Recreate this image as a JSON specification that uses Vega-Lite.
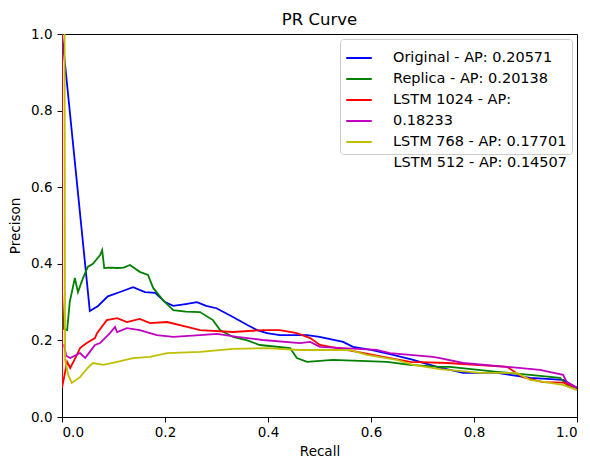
{
  "$schema": "https://vega.github.io/schema/vega-lite/v6.json",
  "width": 515,
  "height": 383,
  "autosize": {"type": "none"},
  "padding": {"left": 62, "top": 34, "right": 13, "bottom": 44},
  "background": "white",
  "title": {"text": "PR Curve", "fontSize": 16.5, "fontWeight": "normal", "font": "DejaVu Sans", "color": "black", "offset": -1},
  "config": {
    "font": "DejaVu Sans",
    "view": {"stroke": "black", "strokeWidth": 1},
    "axis": {"grid": false, "domainColor": "black", "tickColor": "black", "tickSize": 5, "labelColor": "black", "labelFontSize": 13.5, "titleColor": "black", "titleFontSize": 13.5, "titleFontWeight": "normal", "labelFont": "DejaVu Sans", "titleFont": "DejaVu Sans"},
    "legend": {"labelFont": "DejaVu Sans"}
  },
  "resolve": {"scale": {"color": "independent"}, "legend": {"color": "independent"}},
  "layer": [
    {
      "data": {"values": [
        {"s":"Original - AP: 0.20571","i":0,"r":0,"p":1.0},
        {"s":"Original - AP: 0.20571","i":1,"r":0.054,"p":0.277},
        {"s":"Original - AP: 0.20571","i":2,"r":0.07,"p":0.29},
        {"s":"Original - AP: 0.20571","i":3,"r":0.089,"p":0.315},
        {"s":"Original - AP: 0.20571","i":4,"r":0.11,"p":0.325},
        {"s":"Original - AP: 0.20571","i":5,"r":0.138,"p":0.339},
        {"s":"Original - AP: 0.20571","i":6,"r":0.161,"p":0.326},
        {"s":"Original - AP: 0.20571","i":7,"r":0.181,"p":0.324},
        {"s":"Original - AP: 0.20571","i":8,"r":0.2,"p":0.3},
        {"s":"Original - AP: 0.20571","i":9,"r":0.216,"p":0.29},
        {"s":"Original - AP: 0.20571","i":10,"r":0.24,"p":0.295},
        {"s":"Original - AP: 0.20571","i":11,"r":0.262,"p":0.3},
        {"s":"Original - AP: 0.20571","i":12,"r":0.28,"p":0.29},
        {"s":"Original - AP: 0.20571","i":13,"r":0.3,"p":0.284},
        {"s":"Original - AP: 0.20571","i":14,"r":0.332,"p":0.261},
        {"s":"Original - AP: 0.20571","i":15,"r":0.36,"p":0.24},
        {"s":"Original - AP: 0.20571","i":16,"r":0.379,"p":0.227},
        {"s":"Original - AP: 0.20571","i":17,"r":0.398,"p":0.219},
        {"s":"Original - AP: 0.20571","i":18,"r":0.423,"p":0.214},
        {"s":"Original - AP: 0.20571","i":19,"r":0.476,"p":0.214},
        {"s":"Original - AP: 0.20571","i":20,"r":0.5,"p":0.209},
        {"s":"Original - AP: 0.20571","i":21,"r":0.546,"p":0.196},
        {"s":"Original - AP: 0.20571","i":22,"r":0.565,"p":0.183},
        {"s":"Original - AP: 0.20571","i":23,"r":0.6,"p":0.175},
        {"s":"Original - AP: 0.20571","i":24,"r":0.643,"p":0.162},
        {"s":"Original - AP: 0.20571","i":25,"r":0.682,"p":0.149},
        {"s":"Original - AP: 0.20571","i":26,"r":0.728,"p":0.131},
        {"s":"Original - AP: 0.20571","i":27,"r":0.779,"p":0.115},
        {"s":"Original - AP: 0.20571","i":28,"r":0.845,"p":0.115},
        {"s":"Original - AP: 0.20571","i":29,"r":0.909,"p":0.102},
        {"s":"Original - AP: 0.20571","i":30,"r":0.973,"p":0.097},
        {"s":"Original - AP: 0.20571","i":31,"r":1.0,"p":0.076},

        {"s":"Replica - AP: 0.20138","i":0,"r":0,"p":0.33},
        {"s":"Replica - AP: 0.20138","i":1,"r":0.003,"p":0.23},
        {"s":"Replica - AP: 0.20138","i":2,"r":0.01,"p":0.227},
        {"s":"Replica - AP: 0.20138","i":3,"r":0.015,"p":0.3},
        {"s":"Replica - AP: 0.20138","i":4,"r":0.025,"p":0.363},
        {"s":"Replica - AP: 0.20138","i":5,"r":0.031,"p":0.326},
        {"s":"Replica - AP: 0.20138","i":6,"r":0.04,"p":0.36},
        {"s":"Replica - AP: 0.20138","i":7,"r":0.05,"p":0.392},
        {"s":"Replica - AP: 0.20138","i":8,"r":0.06,"p":0.4},
        {"s":"Replica - AP: 0.20138","i":9,"r":0.074,"p":0.423},
        {"s":"Replica - AP: 0.20138","i":10,"r":0.078,"p":0.436},
        {"s":"Replica - AP: 0.20138","i":11,"r":0.082,"p":0.389},
        {"s":"Replica - AP: 0.20138","i":12,"r":0.095,"p":0.39},
        {"s":"Replica - AP: 0.20138","i":13,"r":0.107,"p":0.389},
        {"s":"Replica - AP: 0.20138","i":14,"r":0.12,"p":0.39},
        {"s":"Replica - AP: 0.20138","i":15,"r":0.132,"p":0.397},
        {"s":"Replica - AP: 0.20138","i":16,"r":0.151,"p":0.379},
        {"s":"Replica - AP: 0.20138","i":17,"r":0.167,"p":0.371},
        {"s":"Replica - AP: 0.20138","i":18,"r":0.177,"p":0.337},
        {"s":"Replica - AP: 0.20138","i":19,"r":0.196,"p":0.305},
        {"s":"Replica - AP: 0.20138","i":20,"r":0.216,"p":0.279},
        {"s":"Replica - AP: 0.20138","i":21,"r":0.24,"p":0.275},
        {"s":"Replica - AP: 0.20138","i":22,"r":0.268,"p":0.274},
        {"s":"Replica - AP: 0.20138","i":23,"r":0.293,"p":0.253},
        {"s":"Replica - AP: 0.20138","i":24,"r":0.307,"p":0.227},
        {"s":"Replica - AP: 0.20138","i":25,"r":0.332,"p":0.209},
        {"s":"Replica - AP: 0.20138","i":26,"r":0.36,"p":0.2},
        {"s":"Replica - AP: 0.20138","i":27,"r":0.384,"p":0.188},
        {"s":"Replica - AP: 0.20138","i":28,"r":0.443,"p":0.18},
        {"s":"Replica - AP: 0.20138","i":29,"r":0.456,"p":0.154},
        {"s":"Replica - AP: 0.20138","i":30,"r":0.476,"p":0.144},
        {"s":"Replica - AP: 0.20138","i":31,"r":0.526,"p":0.149},
        {"s":"Replica - AP: 0.20138","i":32,"r":0.631,"p":0.144},
        {"s":"Replica - AP: 0.20138","i":33,"r":0.676,"p":0.136},
        {"s":"Replica - AP: 0.20138","i":34,"r":0.734,"p":0.131},
        {"s":"Replica - AP: 0.20138","i":35,"r":0.753,"p":0.131},
        {"s":"Replica - AP: 0.20138","i":36,"r":0.845,"p":0.118},
        {"s":"Replica - AP: 0.20138","i":37,"r":0.909,"p":0.11},
        {"s":"Replica - AP: 0.20138","i":38,"r":0.967,"p":0.102},
        {"s":"Replica - AP: 0.20138","i":39,"r":0.98,"p":0.084},
        {"s":"Replica - AP: 0.20138","i":40,"r":1.0,"p":0.076},

        {"s":"LSTM 1024 - AP:","i":0,"r":0,"p":1.0},
        {"s":"LSTM 1024 - AP:","i":1,"r":0,"p":0.076},
        {"s":"LSTM 1024 - AP:","i":2,"r":0.005,"p":0.11},
        {"s":"LSTM 1024 - AP:","i":3,"r":0.01,"p":0.144},
        {"s":"LSTM 1024 - AP:","i":4,"r":0.016,"p":0.128},
        {"s":"LSTM 1024 - AP:","i":5,"r":0.029,"p":0.162},
        {"s":"LSTM 1024 - AP:","i":6,"r":0.035,"p":0.18},
        {"s":"LSTM 1024 - AP:","i":7,"r":0.048,"p":0.193},
        {"s":"LSTM 1024 - AP:","i":8,"r":0.064,"p":0.206},
        {"s":"LSTM 1024 - AP:","i":9,"r":0.068,"p":0.219},
        {"s":"LSTM 1024 - AP:","i":10,"r":0.087,"p":0.253},
        {"s":"LSTM 1024 - AP:","i":11,"r":0.107,"p":0.258},
        {"s":"LSTM 1024 - AP:","i":12,"r":0.126,"p":0.248},
        {"s":"LSTM 1024 - AP:","i":13,"r":0.151,"p":0.256},
        {"s":"LSTM 1024 - AP:","i":14,"r":0.171,"p":0.245},
        {"s":"LSTM 1024 - AP:","i":15,"r":0.204,"p":0.248},
        {"s":"LSTM 1024 - AP:","i":16,"r":0.243,"p":0.235},
        {"s":"LSTM 1024 - AP:","i":17,"r":0.268,"p":0.227},
        {"s":"LSTM 1024 - AP:","i":18,"r":0.332,"p":0.222},
        {"s":"LSTM 1024 - AP:","i":19,"r":0.39,"p":0.227},
        {"s":"LSTM 1024 - AP:","i":20,"r":0.423,"p":0.227},
        {"s":"LSTM 1024 - AP:","i":21,"r":0.456,"p":0.219},
        {"s":"LSTM 1024 - AP:","i":22,"r":0.482,"p":0.206},
        {"s":"LSTM 1024 - AP:","i":23,"r":0.501,"p":0.188},
        {"s":"LSTM 1024 - AP:","i":24,"r":0.573,"p":0.17},
        {"s":"LSTM 1024 - AP:","i":25,"r":0.637,"p":0.154},
        {"s":"LSTM 1024 - AP:","i":26,"r":0.676,"p":0.144},
        {"s":"LSTM 1024 - AP:","i":27,"r":0.748,"p":0.141},
        {"s":"LSTM 1024 - AP:","i":28,"r":0.864,"p":0.131},
        {"s":"LSTM 1024 - AP:","i":29,"r":0.895,"p":0.104},
        {"s":"LSTM 1024 - AP:","i":30,"r":0.934,"p":0.091},
        {"s":"LSTM 1024 - AP:","i":31,"r":0.973,"p":0.09},
        {"s":"LSTM 1024 - AP:","i":32,"r":1.0,"p":0.076},

        {"s":"0.18233","i":0,"r":0.004,"p":0.19},
        {"s":"0.18233","i":1,"r":0.008,"p":0.16},
        {"s":"0.18233","i":2,"r":0.016,"p":0.154},
        {"s":"0.18233","i":3,"r":0.035,"p":0.167},
        {"s":"0.18233","i":4,"r":0.045,"p":0.154},
        {"s":"0.18233","i":5,"r":0.054,"p":0.17},
        {"s":"0.18233","i":6,"r":0.064,"p":0.188},
        {"s":"0.18233","i":7,"r":0.074,"p":0.193},
        {"s":"0.18233","i":8,"r":0.093,"p":0.219},
        {"s":"0.18233","i":9,"r":0.103,"p":0.235},
        {"s":"0.18233","i":10,"r":0.107,"p":0.222},
        {"s":"0.18233","i":11,"r":0.126,"p":0.232},
        {"s":"0.18233","i":12,"r":0.151,"p":0.227},
        {"s":"0.18233","i":13,"r":0.184,"p":0.214},
        {"s":"0.18233","i":14,"r":0.216,"p":0.209},
        {"s":"0.18233","i":15,"r":0.268,"p":0.214},
        {"s":"0.18233","i":16,"r":0.301,"p":0.217},
        {"s":"0.18233","i":17,"r":0.34,"p":0.209},
        {"s":"0.18233","i":18,"r":0.39,"p":0.201},
        {"s":"0.18233","i":19,"r":0.462,"p":0.193},
        {"s":"0.18233","i":20,"r":0.482,"p":0.196},
        {"s":"0.18233","i":21,"r":0.501,"p":0.183},
        {"s":"0.18233","i":22,"r":0.611,"p":0.175},
        {"s":"0.18233","i":23,"r":0.637,"p":0.167},
        {"s":"0.18233","i":24,"r":0.72,"p":0.157},
        {"s":"0.18233","i":25,"r":0.734,"p":0.154},
        {"s":"0.18233","i":26,"r":0.779,"p":0.141},
        {"s":"0.18233","i":27,"r":0.864,"p":0.131},
        {"s":"0.18233","i":28,"r":0.928,"p":0.123},
        {"s":"0.18233","i":29,"r":0.973,"p":0.11},
        {"s":"0.18233","i":30,"r":0.98,"p":0.091},
        {"s":"0.18233","i":31,"r":1.0,"p":0.076},

        {"s":"LSTM 768 - AP: 0.17701","i":0,"r":0.005,"p":1.0},
        {"s":"LSTM 768 - AP: 0.17701","i":1,"r":0.006,"p":0.15},
        {"s":"LSTM 768 - AP: 0.17701","i":2,"r":0.012,"p":0.11},
        {"s":"LSTM 768 - AP: 0.17701","i":3,"r":0.019,"p":0.089},
        {"s":"LSTM 768 - AP: 0.17701","i":4,"r":0.035,"p":0.104},
        {"s":"LSTM 768 - AP: 0.17701","i":5,"r":0.05,"p":0.128},
        {"s":"LSTM 768 - AP: 0.17701","i":6,"r":0.06,"p":0.141},
        {"s":"LSTM 768 - AP: 0.17701","i":7,"r":0.08,"p":0.136},
        {"s":"LSTM 768 - AP: 0.17701","i":8,"r":0.107,"p":0.144},
        {"s":"LSTM 768 - AP: 0.17701","i":9,"r":0.138,"p":0.154},
        {"s":"LSTM 768 - AP: 0.17701","i":10,"r":0.171,"p":0.157},
        {"s":"LSTM 768 - AP: 0.17701","i":11,"r":0.204,"p":0.167},
        {"s":"LSTM 768 - AP: 0.17701","i":12,"r":0.268,"p":0.17},
        {"s":"LSTM 768 - AP: 0.17701","i":13,"r":0.332,"p":0.178},
        {"s":"LSTM 768 - AP: 0.17701","i":14,"r":0.398,"p":0.18},
        {"s":"LSTM 768 - AP: 0.17701","i":15,"r":0.462,"p":0.175},
        {"s":"LSTM 768 - AP: 0.17701","i":16,"r":0.559,"p":0.175},
        {"s":"LSTM 768 - AP: 0.17701","i":17,"r":0.592,"p":0.162},
        {"s":"LSTM 768 - AP: 0.17701","i":18,"r":0.65,"p":0.149},
        {"s":"LSTM 768 - AP: 0.17701","i":19,"r":0.682,"p":0.136},
        {"s":"LSTM 768 - AP: 0.17701","i":20,"r":0.734,"p":0.125},
        {"s":"LSTM 768 - AP: 0.17701","i":21,"r":0.812,"p":0.115},
        {"s":"LSTM 768 - AP: 0.17701","i":22,"r":0.883,"p":0.115},
        {"s":"LSTM 768 - AP: 0.17701","i":23,"r":0.909,"p":0.097},
        {"s":"LSTM 768 - AP: 0.17701","i":24,"r":0.973,"p":0.084},
        {"s":"LSTM 768 - AP: 0.17701","i":25,"r":1.0,"p":0.07}
      ]},
      "mark": {"type": "line", "strokeWidth": 1.8, "clip": true},
      "encoding": {
        "x": {"field": "r", "type": "quantitative", "scale": {"domain": [0, 1], "nice": false}, "axis": {"title": "Recall", "values": [0, 0.2, 0.4, 0.6, 0.8, 1.0], "format": ".1f", "labelPadding": 3, "titlePadding": 6}},
        "y": {"field": "p", "type": "quantitative", "scale": {"domain": [0, 1], "nice": false}, "axis": {"title": "Precison", "values": [0, 0.2, 0.4, 0.6, 0.8, 1.0], "format": ".1f", "labelPadding": 5, "titlePadding": 8}},
        "color": {
          "field": "s", "type": "nominal",
          "scale": {
            "domain": ["Original - AP: 0.20571", "Replica - AP: 0.20138", "LSTM 1024 - AP:", "0.18233", "LSTM 768 - AP: 0.17701"],
            "range": ["#0000ff", "#008000", "#ff0000", "#bf00bf", "#bfbf00"]
          },
          "legend": {"title": null, "orient": "top-right", "offset": 5, "fillColor": "white", "strokeColor": "#cccccc", "cornerRadius": 3, "padding": 5, "symbolType": "stroke", "symbolSize": 650, "symbolStrokeWidth": 2, "symbolOffset": 0, "labelOffset": 20, "labelFontSize": 14.5, "labelColor": "black", "labelLimit": 300, "rowPadding": 0}
        },
        "order": {"field": "i", "type": "quantitative"}
      }
    },
    {
      "data": {"values": [
        {"s": "LSTM 512 - AP: 0.14507", "r": 1.0, "p": 0.076}
      ]},
      "mark": {"type": "line", "strokeWidth": 0, "opacity": 0},
      "encoding": {
        "x": {"field": "r", "type": "quantitative"},
        "y": {"field": "p", "type": "quantitative"},
        "color": {
          "field": "s", "type": "nominal",
          "scale": {"domain": ["LSTM 512 - AP: 0.14507"], "range": ["rgba(255,255,255,0)"]},
          "legend": {"title": null, "orient": "none", "legendX": 278.5, "legendY": 110, "padding": 5, "symbolType": "stroke", "symbolSize": 650, "symbolStrokeWidth": 2, "symbolOpacity": 0, "symbolOffset": 0, "labelOffset": 20, "labelFontSize": 14.5, "labelColor": "black", "labelLimit": 300}
        }
      }
    }
  ]
}
